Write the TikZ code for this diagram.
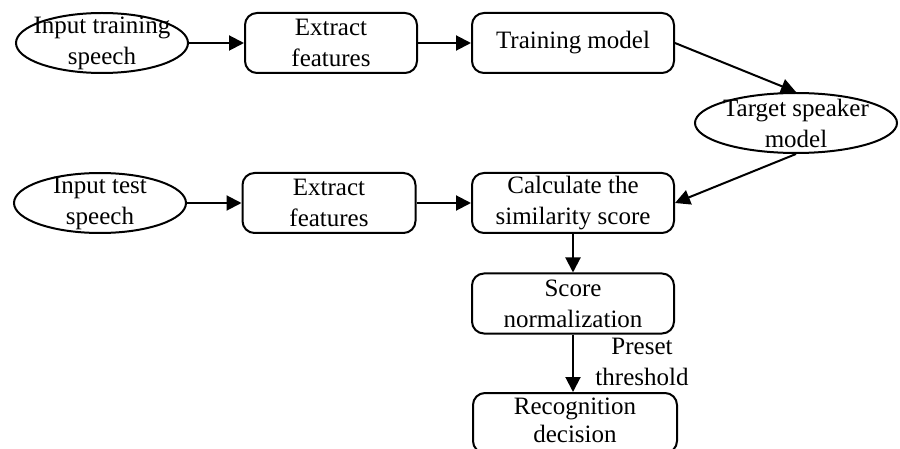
\documentclass[tikz,border=0pt]{standalone}
\usepackage{fontspec}
\setmainfont{Liberation Serif}
\usetikzlibrary{shapes.geometric,arrows.meta}
\begin{document}
\begin{tikzpicture}[x=1pt,y=-1pt,
  every node/.style={font=\fontsize{25}{31}\selectfont, text=black},
  procbox/.style={draw, line width=2pt, rounded corners=12pt, minimum height=60pt, inner sep=0pt, align=center},
  oval/.style={draw, line width=2pt, ellipse, minimum height=60pt, inner sep=0pt},
  txt/.style={inner sep=0pt, align=center},
  conn/.style={line width=2pt, -{Triangle[length=15pt,width=15pt]}}
]
\useasboundingbox (0,0) rectangle (900,449);
% top row
\node[oval, minimum width=172pt] (e1) at (102,43) {};
\node[txt] (e1t) at (e1.center) {Input training\\speech};
\node[procbox, minimum width=172pt] (b1) at (331,43) {Extract\\features};
\node[procbox, minimum width=202pt] (tm) at (573,43) {Training model};
\node[oval, minimum width=202pt] (tg) at (796,123) {};
\node[txt] (tgt) at (tg.center) {Target speaker\\model};
% second row
\node[oval, minimum width=172pt] (e2) at (100,203) {};
\node[txt] (e2t) at (e2.center) {Input test\\speech};
\node[procbox, minimum width=173pt] (b2) at (329,203) {Extract\\features};
\node[procbox, minimum width=202pt] (calc) at (573,203) {Calculate the\\similarity score};
\node[procbox, minimum width=202pt] (sn) at (573,303.5) {Score\\normalization};
\node[procbox, minimum width=204pt] (rd) at (575,423) {};
\node[txt, font=\fontsize{25}{28}\selectfont] (rdt) at ([yshift=2.5pt]rd.center) {Recognition\\decision};
\node[txt] (pt) at (642,362) {Preset\\threshold};
% connectors
\draw[conn] (e1.east) -- (b1.west);
\draw[conn] (b1.east) -- (tm.west);
\draw[conn] (tm.east) -- (tg.north);
\draw[conn] (e2.east) -- (b2.west);
\draw[conn] (b2.east) -- (calc.west);
\draw[conn] (tg.south) -- (calc.east);
\draw[conn] (calc.south) -- (sn.north);
\draw[conn] (sn.south) -- (sn.south |- rd.north);
\end{tikzpicture}
\end{document}
